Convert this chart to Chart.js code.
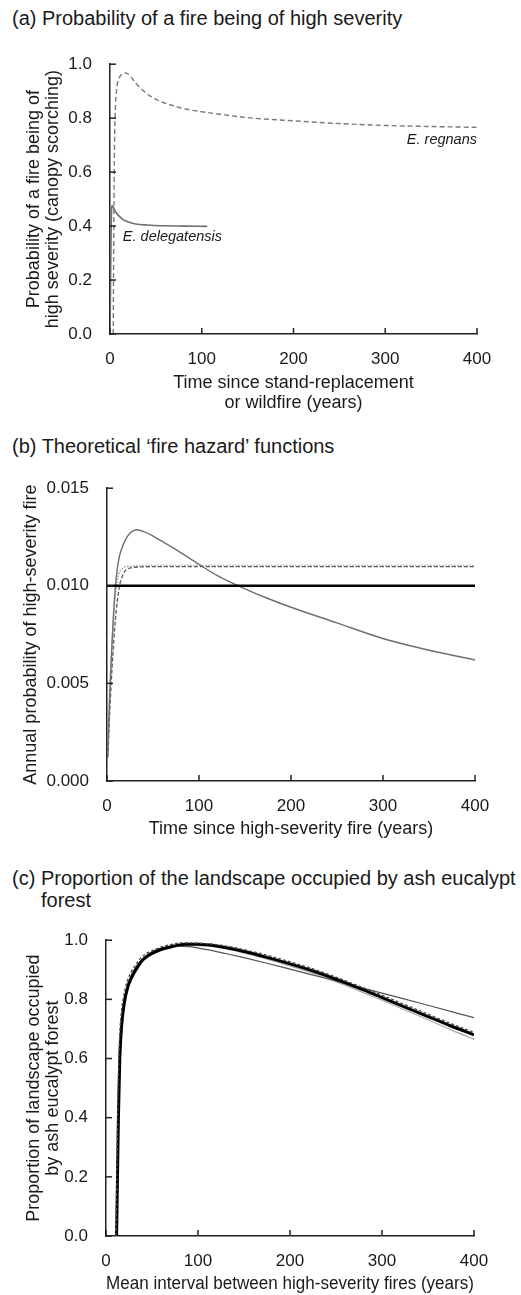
<!DOCTYPE html>
<html>
<head>
<meta charset="utf-8">
<script src="https://cdn.jsdelivr.net/npm/chart.js@4.4.1/dist/chart.umd.min.js"></script>
<style>
body{margin:0;background:#fff;font-family:"Liberation Sans",Arial,sans-serif;color:#1a1a1a}
#page{position:relative;width:521px;height:1295px;overflow:hidden}
.ttl{position:absolute;left:12px;font-size:20px;line-height:24px;white-space:nowrap}
canvas{position:absolute;left:0}
</style>
</head>
<body>
<div id="page">
  <div class="ttl" style="top:6px">(a) Probability of a fire being of high severity</div>
  <canvas id="chartA" width="521" height="377" style="top:36px"></canvas>
  <div class="ttl" style="top:434px">(b) Theoretical ‘fire hazard’ functions</div>
  <canvas id="chartB" width="521" height="379" style="top:460px"></canvas>
  <div class="ttl" style="top:867px;line-height:22px">(c) Proportion of the landscape occupied by ash eucalypt<br><span style="padding-left:29px">forest</span></div>
  <canvas id="chartC" width="521" height="382" style="top:912px"></canvas>
</div>
<script>
// ---- panel (a): probability of high-severity fire
var yearsRegnans = [3.5, 4, 4.5, 5, 6, 7, 8.5, 10, 12, 14, 16.5, 19, 23, 28, 35, 44, 55, 70, 85, 100, 125, 150, 200, 250, 300, 350, 400]
var probRegnans = [0, 0.3, 0.55, 0.72, 0.85, 0.9, 0.935, 0.95, 0.96, 0.966, 0.968, 0.965, 0.952, 0.93, 0.905, 0.882, 0.862, 0.845, 0.832, 0.824, 0.812, 0.802, 0.79, 0.78, 0.773, 0.769, 0.766]
var yearsDeleg = [0, 0.5, 1, 1.5, 2, 2.5, 3.5, 5, 7, 10, 14, 20, 28, 40, 60, 80, 106]
var probDeleg = [0, 0.15, 0.32, 0.44, 0.472, 0.475, 0.47, 0.46, 0.449, 0.437, 0.425, 0.415, 0.408, 0.404, 0.401, 0.4, 0.399]

// ---- panel (b): fire hazard functions
var yearsConst = [0, 400]
var hazardConst = [0.010, 0.010]
var yearsPeak = [0.8, 1.5, 2.5, 3.5, 5, 7, 10, 13, 16, 20, 25, 32, 40, 50, 60, 75, 100, 120, 145, 175, 200, 250, 300, 350, 400]
var hazardPeak = [0.0013, 0.0025, 0.0039, 0.0051, 0.0066, 0.0085, 0.0104, 0.0114, 0.0119, 0.01235, 0.0127, 0.01287, 0.01278, 0.01255, 0.01228, 0.01185, 0.0111, 0.01052, 0.00995, 0.00935, 0.0089, 0.0081, 0.0073, 0.0067, 0.0062]
var yearsDotted = [1, 2, 3, 4, 5.5, 7, 8.5, 10, 12, 14, 17, 20, 25, 35, 60, 100, 400]
var hazardDotted = [0.0014, 0.0028, 0.0042, 0.0055, 0.007, 0.0082, 0.0092, 0.0099, 0.01045, 0.01075, 0.0109, 0.01097, 0.01101, 0.01103, 0.01104, 0.01104, 0.01104]
var yearsDashed = [1, 2.5, 4, 5.5, 7, 8.5, 10, 12, 14, 16, 18, 21, 25, 30, 38, 50, 100, 400]
var hazardDashed = [0.0012, 0.003, 0.0045, 0.0058, 0.0069, 0.0079, 0.0087, 0.0095, 0.0101, 0.0104, 0.01065, 0.01082, 0.01091, 0.01095, 0.01097, 0.01098, 0.01098, 0.01098]

// ---- panel (c): proportion of landscape
var intervalBlack = [11.5, 12.5, 13.5, 15, 17, 20, 24, 28, 33, 39, 46, 53, 62, 72, 86, 100, 125, 150, 175, 200, 225, 250, 275, 300, 325, 350, 375, 400]
var propBlack = [0, 0.2, 0.4, 0.6, 0.71, 0.79, 0.845, 0.875, 0.903, 0.93, 0.948, 0.96, 0.971, 0.979, 0.986, 0.986, 0.978, 0.962, 0.942, 0.92, 0.896, 0.868, 0.838, 0.806, 0.774, 0.742, 0.71, 0.68]
var intervalDashed = [11, 12, 13, 14.5, 16.5, 19.5, 23.5, 27.5, 32.5, 38.5, 45.5, 52.5, 61.5, 71.5, 82, 100, 125, 150, 175, 200, 225, 250, 275, 300, 325, 350, 375, 400]
var propDashed = [0, 0.25, 0.47, 0.65, 0.75, 0.815, 0.865, 0.893, 0.918, 0.942, 0.958, 0.968, 0.978, 0.986, 0.991, 0.99, 0.983, 0.968, 0.949, 0.927, 0.903, 0.875, 0.845, 0.814, 0.782, 0.75, 0.718, 0.688]
var intervalThin = [11.5, 12.5, 13.5, 15, 17, 20, 24, 28, 33, 39, 46, 55, 65, 75, 90, 110, 130, 150, 175, 200, 250, 300, 350, 400]
var propThin = [0, 0.22, 0.43, 0.62, 0.73, 0.805, 0.855, 0.885, 0.912, 0.935, 0.953, 0.968, 0.977, 0.98, 0.978, 0.968, 0.955, 0.941, 0.922, 0.902, 0.862, 0.821, 0.78, 0.738]
var intervalLight = [11.5, 12.5, 13.5, 15, 17, 20, 24, 28, 33, 39, 46, 53, 62, 72, 86, 100, 125, 150, 175, 200, 225, 250, 275, 300, 325, 350, 375, 400]
var propLight = [0, 0.18, 0.38, 0.58, 0.7, 0.78, 0.838, 0.868, 0.897, 0.925, 0.944, 0.956, 0.967, 0.975, 0.982, 0.982, 0.974, 0.957, 0.936, 0.913, 0.888, 0.86, 0.829, 0.797, 0.764, 0.731, 0.697, 0.665]

// tick values
var xTicks = [0, 100, 200, 300, 400]
var yTicksA = [0, 0.2, 0.4, 0.6, 0.8, 1.0]
var yTicksB = [0, 0.005, 0.010, 0.015]
var yTicksC = [0, 0.2, 0.4, 0.6, 0.8, 1.0]

var FONT = '"Liberation Sans", Arial, sans-serif'
Chart.defaults.font.family = FONT
Chart.defaults.color = '#1a1a1a'

function pairs(xs, ys){
    return xs.map(function(x, i){ return {x: x, y: ys[i]} })
}

function line(xs, ys, color, width, dash){
    return {
        data: pairs(xs, ys),
        borderColor: color,
        borderWidth: width,
        borderDash: dash || [],
        pointRadius: 0,
        cubicInterpolationMode: 'monotone',
        fill: false
    }
}

// ticks drawn inward, like the original figure
var inwardTicks = {
    id: 'inwardTicks',
    afterDraw: function(chart){
        var ctx = chart.ctx
        var area = chart.chartArea
        var xs = chart.scales.x, ys = chart.scales.y
        ctx.save()
        ctx.strokeStyle = '#222'
        ctx.lineWidth = 1.5
        xs.ticks.forEach(function(t){
            var px = xs.getPixelForValue(t.value)
            ctx.beginPath(); ctx.moveTo(px, area.bottom); ctx.lineTo(px, area.bottom - 6); ctx.stroke()
        })
        ys.ticks.forEach(function(t){
            var py = ys.getPixelForValue(t.value)
            ctx.beginPath(); ctx.moveTo(area.left, py); ctx.lineTo(area.left + 6, py); ctx.stroke()
        })
        ctx.restore()
    }
}

// species names in panel (a)
var speciesLabels = [
    {text: 'E. regnans', x: 400, y: 0.72, align: 'right'},
    {text: 'E. delegatensis', x: 14, y: 0.36, align: 'left'}
]
var speciesPlugin = {
    id: 'species',
    afterDatasetsDraw: function(chart){
        var ctx = chart.ctx
        ctx.save()
        ctx.font = 'italic 14.5px ' + FONT
        ctx.fillStyle = '#1a1a1a'
        ctx.textBaseline = 'middle'
        speciesLabels.forEach(function(l){
            ctx.textAlign = l.align
            ctx.fillText(l.text, chart.scales.x.getPixelForValue(l.x), chart.scales.y.getPixelForValue(l.y))
        })
        ctx.restore()
    }
}

function makeChart(id, datasets, cfg, plugins){
    var axisBorder = {display: true, color: '#222', width: 1.5}
    return new Chart(document.getElementById(id), {
        type: 'line',
        data: {datasets: datasets},
        plugins: plugins,
        options: {
            responsive: false,
            animation: false,
            devicePixelRatio: 1,
            layout: {padding: {top: 20, right: cfg.rightPad, bottom: 0, left: 0}},
            plugins: {legend: {display: false}, tooltip: {enabled: false}},
            scales: {
                x: {
                    type: 'linear', min: 0, max: 400,
                    afterBuildTicks: function(s){ s.ticks = xTicks.map(function(v){ return {value: v} }) },
                    afterFit: function(s){ s.height = cfg.xHeight },
                    grid: {display: false, drawTicks: false},
                    border: axisBorder,
                    ticks: {font: {size: 17}, padding: 15, maxRotation: 0, autoSkip: false,
                        callback: function(v){ return String(v) }},
                    title: {display: true, text: cfg.xTitle, font: {size: 18, lineHeight: 1.1}, padding: {top: 0, bottom: 0}}
                },
                y: {
                    type: 'linear', min: cfg.yMin, max: cfg.yMax,
                    afterBuildTicks: function(s){ s.ticks = cfg.yTicks.map(function(v){ return {value: v} }) },
                    afterFit: function(s){ s.width = cfg.yWidth },
                    grid: {display: false, drawTicks: false},
                    border: axisBorder,
                    ticks: {font: {size: 17}, padding: 18, autoSkip: false,
                        callback: function(v){ return v.toFixed(cfg.digits) }},
                    title: {display: true, text: cfg.yTitle, font: {size: 18, lineHeight: 1.05}, padding: {top: cfg.yTitlePad, bottom: 0}}
                }
            }
        }
    })
}

makeChart('chartA', [
    line(yearsDeleg, probDeleg, '#6e6e6e', 1.6),
    line(yearsRegnans, probRegnans, '#7a7a7a', 1.4, [5, 3])
], {
    yMin: 0, yMax: 1, yTicks: yTicksA, digits: 1, yWidth: 110, xHeight: 79, rightPad: 44, yTitlePad: 25,
    xTitle: ['Time since stand-replacement', 'or wildfire (years)'],
    yTitle: ['Probability of a fire being of', 'high severity (canopy scorching)']
}, [inwardTicks, speciesPlugin])

makeChart('chartB', [
    line(yearsConst, hazardConst, '#000000', 2.6),
    line(yearsPeak, hazardPeak, '#6e6e6e', 1.4),
    line(yearsDashed, hazardDashed, '#5a5a5a', 1.3, [4, 2]),
    line(yearsDotted, hazardDotted, '#a8a8a8', 1.6, [1.5, 1.5])
], {
    yMin: 0, yMax: 0.015, yTicks: yTicksB, digits: 3, yWidth: 107, xHeight: 58, rightPad: 46, yTitlePad: 22,
    xTitle: 'Time since high-severity fire (years)',
    yTitle: 'Annual probability of high-severity fire'
}, [inwardTicks])

makeChart('chartC', [
    line(intervalDashed, propDashed, '#4a4a4a', 1.3, [3, 2]),
    line(intervalBlack, propBlack, '#000000', 3),
    line(intervalThin, propThin, '#555555', 1.2),
    line(intervalLight, propLight, '#aaaaaa', 1.3)
], {
    yMin: 0, yMax: 1, yTicks: yTicksC, digits: 1, yWidth: 106, xHeight: 58, rightPad: 47, yTitlePad: 25,
    xTitle: 'Mean interval between high-severity fires (years)',
    yTitle: ['Proportion of landscape occupied', 'by ash eucalypt forest']
}, [inwardTicks])
</script>
</body>
</html>
